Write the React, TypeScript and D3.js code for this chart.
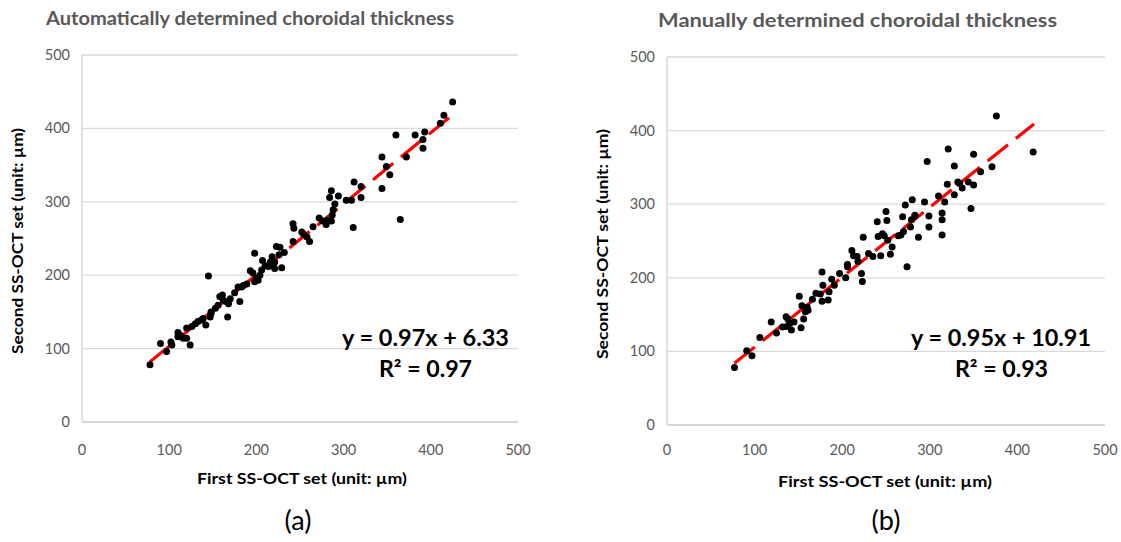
import React from "react";
import * as d3 from "d3";

const autoX = [78,90,97,103,102,110,110,116,120,124,120,126,130,133,137,142,145,147,148,153,156,158,161,162,167,168,170,175,179,181,183,189,193,196,198,198,200,202,204,206,207,214,216,218,219,221,221,223,227,229,242,243,242,252,254,258,261,265,272,276,280,281,284,286,286,287,288,290,294,303,309,311,312,320,320,344,344,349,353,360,365,372,382,391,391,393,411,415,425,148,165,185,210,226,232,139,113];
const autoY = [78,107,96,105,109,122,116,114,114,105,128,130,134,137,139,132,199,143,150,155,159,171,173,166,143,161,168,176,184,164,184,188,206,203,230,191,196,193,200,207,220,212,218,225,214,209,218,239,238,210,270,264,246,259,256,252,246,266,278,274,269,275,306,315,274,282,289,297,308,302,302,265,327,321,306,361,318,348,337,391,276,361,391,385,373,395,407,418,436,148,164,186,213,228,231,141,118];

const manualX = [77,91,97,106,119,125,136,138,140,142,137,151,153,156,154,158,161,166,170,175,177,177,178,184,185,188,191,197,204,206,206,211,213,217,218,222,223,224,230,235,240,241,244,246,248,250,251,252,255,257,264,267,269,270,272,274,278,279,280,283,283,287,294,297,299,299,310,314,314,314,317,320,321,328,328,332,334,337,344,347,350,350,358,371,376,418,132,145,160];
const manualY = [78,101,94,119,140,125,147,144,138,129,134,175,132,144,162,154,156,171,179,178,208,168,190,170,181,198,190,206,200,218,215,237,230,229,222,206,195,255,233,229,276,256,230,260,257,290,278,251,232,242,257,258,283,263,299,215,269,279,306,284,285,255,303,358,284,269,311,288,279,258,303,327,375,313,352,330,328,322,330,294,326,368,344,351,420,371,133,140,160];

const xTicks = [0, 100, 200, 300, 400, 500];
const yTicks = [0, 100, 200, 300, 400, 500];

const panels = [
  {
    title: "Automatically determined choroidal thickness",
    xs: autoX, ys: autoY, slope: 0.97, intercept: 6.33, fitFrom: 78, fitTo: 425,
    eq: "y = 0.97x + 6.33", r2: "0.97", tag: "(a)",
    left: 82, right: 518, top: 55, bottom: 422,
    titleX: 46, titleW: 408, titleY: 25,
    yTitleX: 23, yTitleMid: 241, yTitleW: 226,
    xTitleMid: 302, xTitleY: 484, xTitleW: 210,
    eqRight: 509, eqY: 346, eqW: 167, r2Left: 379, r2Y: 377, r2W: 93,
    tagX: 298, tagY: 530,
  },
  {
    title: "Manually determined choroidal thickness",
    xs: manualX, ys: manualY, slope: 0.95, intercept: 10.91, fitFrom: 77, fitTo: 419,
    eq: "y = 0.95x + 10.91", r2: "0.93", tag: "(b)",
    left: 667, right: 1105, top: 57, bottom: 425,
    titleX: 658, titleW: 399, titleY: 27,
    yTitleX: 608, yTitleMid: 244, yTitleW: 230,
    xTitleMid: 885, xTitleY: 487, xTitleW: 214,
    eqRight: 1091, eqY: 346, eqW: 180, r2Left: 955, r2Y: 377, r2W: 93,
    tagX: 886, tagY: 530,
  },
];

const FONT = "Lato, 'Open Sans', sans-serif";

function Panel({ p }: { p: any }) {
  const x = d3.scaleLinear().domain([0, 500]).range([p.left, p.right]);
  const y = d3.scaleLinear().domain([0, 500]).range([p.bottom, p.top]);
  const fit = d3
    .line<number>()
    .x((d) => x(d))
    .y((d) => y(p.slope * d + p.intercept));
  return (
    <g>
      <text x={p.titleX} y={p.titleY} fontFamily={FONT} fontWeight="bold" fontSize={19}
        fill="#595959" textLength={p.titleW} lengthAdjust="spacingAndGlyphs">{p.title}</text>
      {yTicks.map((t) => (
        <line key={"g" + t} x1={p.left} x2={p.right} y1={y(t)} y2={y(t)}
          stroke={t === 0 ? "#c8c8c8" : "#d9d9d9"} strokeWidth={1.3} />
      ))}
      <line x1={p.left} x2={p.left} y1={p.top} y2={p.bottom} stroke="#d9d9d9" strokeWidth={1.5} />
      {yTicks.map((t) => (
        <text key={"yl" + t} x={p.left - 12} y={y(t) + 5} textAnchor="end" fontFamily={FONT}
          fontSize={14.5} fill="#595959">{t}</text>
      ))}
      {xTicks.map((t) => (
        <text key={"xl" + t} x={x(t)} y={455} textAnchor="middle" fontFamily={FONT}
          fontSize={14.5} fill="#595959">{t}</text>
      ))}
      <path d={fit([p.fitFrom, p.fitTo]) || ""} fill="none" stroke="#ff0000" strokeWidth={3.2}
        strokeDasharray="26,10" />
      {p.xs.map((v: number, i: number) => (
        <circle key={"c" + i} cx={x(v)} cy={y(p.ys[i])} r={3.5} fill="#000" />
      ))}
      <text transform={`translate(${p.yTitleX},${p.yTitleMid}) rotate(-90)`} textAnchor="middle"
        fontFamily={FONT} fontWeight="bold" fontSize={15} fill="#000"
        textLength={p.yTitleW} lengthAdjust="spacingAndGlyphs">Second SS-OCT set (unit: µm)</text>
      <text x={p.xTitleMid} y={p.xTitleY} textAnchor="middle" fontFamily={FONT} fontWeight="bold"
        fontSize={15} fill="#000" textLength={p.xTitleW} lengthAdjust="spacingAndGlyphs">First SS-OCT set (unit: µm)</text>
      <text x={p.eqRight - p.eqW} y={p.eqY} fontFamily={FONT} fontWeight="bold" fontSize={22.5}
        fill="#000" textLength={p.eqW} lengthAdjust="spacingAndGlyphs">{p.eq}</text>
      <text x={p.r2Left} y={p.r2Y} fontFamily={FONT} fontWeight="bold" fontSize={22.5} fill="#000"
        textLength={p.r2W} lengthAdjust="spacingAndGlyphs">R² = {p.r2}</text>
      <text x={p.tagX} y={p.tagY} textAnchor="middle" fontFamily={FONT} fontSize={27} fill="#000">{p.tag}</text>
    </g>
  );
}

export default function App() {
  return (
    <svg width={1121} height={542} style={{ position: "absolute", left: 0, top: 0, background: "#fff" }}>
      <rect width={1121} height={542} fill="#fff" />
      {panels.map((p, i) => (
        <Panel key={i} p={p} />
      ))}
    </svg>
  );
}
